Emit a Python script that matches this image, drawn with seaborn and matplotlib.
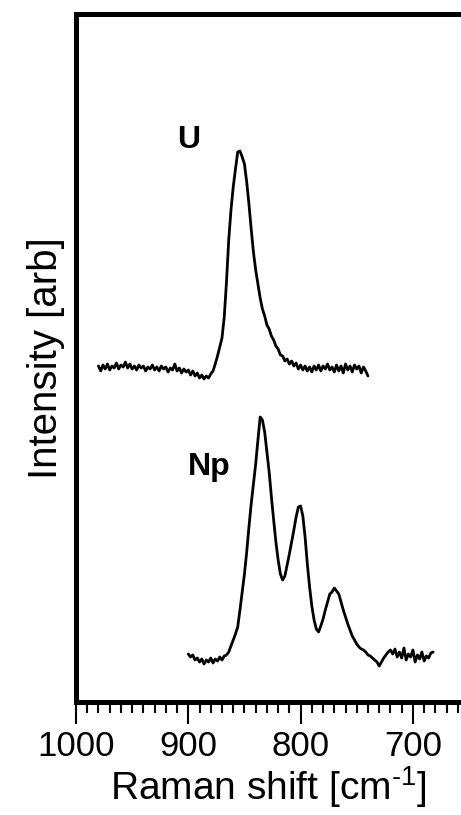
import matplotlib
matplotlib.use('Agg')
import matplotlib.pyplot as plt
import seaborn as sns
import numpy as np
import pandas as pd
from matplotlib.ticker import MultipleLocator

# Raman shift grids (cm-1) and intensities (arb. units)
u_shift = list(range(980, 738, -2))
u_int = [336, 331, 337, 333, 338, 332, 336, 334, 339, 333,
         337, 335, 340, 334, 338, 333, 336, 332, 337, 334,
         336, 331, 335, 333, 337, 332, 335, 331, 336, 333,
         335, 330, 334, 332, 338, 331, 334, 329, 333, 330,
         332, 327, 331, 326, 329, 324, 327, 323, 326, 324,
         328, 331, 338, 346, 355, 364, 385, 420, 462, 492,
         515, 533, 550, 551, 545, 538, 520, 498, 473, 450,
         432, 418, 404, 393, 386, 377, 373, 366, 362, 356,
         353, 347, 346, 341, 343, 338, 341, 336, 339, 333,
         337, 332, 336, 331, 335, 330, 336, 332, 337, 331,
         336, 333, 338, 332, 335, 330, 337, 331, 336, 329,
         338, 332, 336, 330, 337, 333, 336, 329, 335, 331,
         326]

np_shift = list(range(900, 680, -2))
np_int = [48, 45, 47, 42, 44, 40, 43, 38, 42, 40,
          44, 39, 43, 41, 45, 42, 46, 47, 50, 56,
          62, 68, 75, 92, 110, 128, 150, 175, 198, 218,
          238, 262, 285, 282, 270, 250, 230, 205, 182, 160,
          142, 128, 122, 126, 137, 148, 160, 172, 185, 195,
          196, 186, 165, 138, 115, 96, 82, 73, 70, 76,
          83, 92, 100, 108, 110, 114, 111, 108, 100, 92,
          85, 78, 72, 66, 62, 58, 55, 53, 52, 50,
          47, 46, 44, 42, 40, 36, 40, 44, 47, 50,
          52, 48, 53, 45, 50, 44, 54, 42, 48, 45,
          52, 40, 47, 43, 50, 41, 46, 44, 49, 50]

x_ticks = [1000, 900, 800, 700]
labels = ['U', 'Np']
label_pos = [(900, 562), (881, 235)]

sns.set_theme(style='ticks')
plt.rcParams['font.family'] = ['Liberation Sans', 'DejaVu Sans']
plt.rcParams['mathtext.fontset'] = 'custom'
plt.rcParams['mathtext.rm'] = 'Liberation Sans'
plt.rcParams['text.color'] = 'black'
plt.rcParams['axes.labelcolor'] = 'black'
plt.rcParams['xtick.color'] = 'black'

df_u = pd.DataFrame({'shift': u_shift, 'intensity': u_int})
df_np = pd.DataFrame({'shift': np_shift, 'intensity': np_int})

fig = plt.figure(figsize=(4.61, 8.15), dpi=100)
ax = fig.add_axes([76/461, 113/815, 385/461, 688.5/815])

sns.lineplot(data=df_u, x='shift', y='intensity', ax=ax, color='black',
             linewidth=2, estimator=None)
sns.lineplot(data=df_np, x='shift', y='intensity', ax=ax, color='black',
             linewidth=2, estimator=None)

for lab, (xx, yy) in zip(labels, label_pos):
    ax.text(xx, yy, lab, fontsize=23, fontweight='bold', ha='center', va='center')

ax.set_xlim(1000, 1000 - 385/1.123)
ax.set_ylim(0, 688.5)
ax.set_xticks(x_ticks)
ax.xaxis.set_minor_locator(MultipleLocator(10))
ax.set_yticks([])
ax.tick_params(axis='x', which='major', length=16, width=1.5, labelsize=25, pad=4)
ax.tick_params(axis='x', which='minor', length=8, width=1.5)

for side in ['left', 'top', 'bottom']:
    ax.spines[side].set_linewidth(3.6)
    ax.spines[side].set_color('black')
ax.spines['right'].set_visible(False)

ax.set_xlabel(r'Raman shift [cm$^{\text{-}1}$]', fontsize=28, labelpad=1)
ax.set_ylabel('Intensity [arb]', fontsize=29, labelpad=8)

fig.savefig('out.png', dpi=100)
